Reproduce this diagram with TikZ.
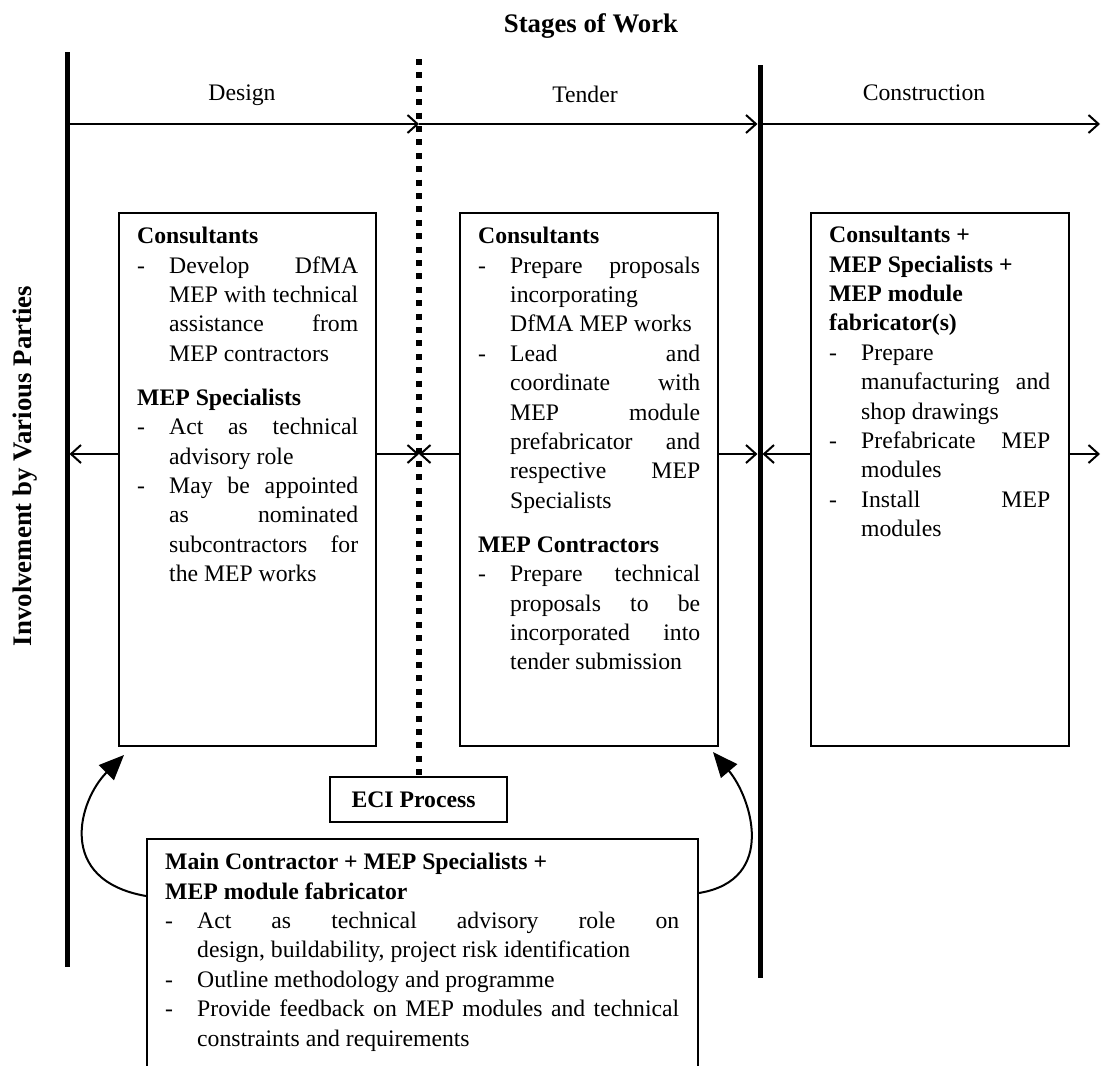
\documentclass[tikz,border=0pt]{standalone}
\usepackage{fontspec}
\setmainfont{Liberation Serif}
\usetikzlibrary{arrows.meta}

% text settings for the boxes
\newcommand\bodysize{\fontsize{23.7}{29.4}\selectfont}
\newcommand\bodysetup{\bodysize\parindent=0pt\pretolerance=10000\tolerance=10000\hbadness=10000}
\newcommand\hdline[1]{\noindent\textbf{#1}\par}
\newcommand\bitem[1]{\hangindent=32pt\hangafter=1\noindent\makebox[32pt][l]{-}#1\par}
\newcommand\secgap{\vspace{14.6pt}}

\tikzset{
  frame/.style={draw, line width=2pt, inner sep=0pt, anchor=north west},
  body/.style={inner sep=0pt, anchor=north west, text width=#1, align=justify, font=\bodysetup},
  stage/.style={font=\bodysize, anchor=base, inner sep=0pt},
  heading/.style={font=\fontsize{26.8}{31}\selectfont\bfseries, inner sep=0pt},
  phase/.style={line width=5pt},
  dotline/.style={line width=6pt, dash pattern=on 6pt off 7.4pt},
  flow/.style={line width=2pt, -{Straight Barb[length=10pt,width=18pt,line width=2pt]}},
  loop/.style={line width=2pt, -{Triangle[length=25pt,width=21pt]}},
}

\begin{document}
\begin{tikzpicture}[x=1pt,y=1pt]
\useasboundingbox (0,0) rectangle (1101,-1066);
\clip (0,0) rectangle (1101,-1066);
\fill[white] (0,0) rectangle (1101,-1066);

% headings
\node[heading, anchor=base] (title) at (591,-32) {Stages of Work};
\node[heading, rotate=90, anchor=base] (parties) at (31,-466) {Involvement by Various Parties};

% reference points
\coordinate (a0) at (67,-52);
\coordinate (a1) at (67,-967);
\coordinate (b0) at (419,-59);
\coordinate (c0) at (760,-65);
\coordinate (c1) at (760,-978);
\coordinate (aR) at (69.5,0);
\coordinate (bC) at (419,0);
\coordinate (cL) at (757.5,0);
\coordinate (cR) at (762.5,0);
\coordinate (edge) at (1100,0);
\coordinate (axis) at (0,-124);
\coordinate (row) at (0,-454);
\coordinate (ltip) at (124,-755);
\coordinate (rtip) at (713,-752);

% boxes
\node[frame, minimum width=257pt, minimum height=533pt] (lbox) at (118,-212) {};
\node[frame, minimum width=258pt, minimum height=533pt] (mbox) at (459,-212) {};
\node[frame, minimum width=258pt, minimum height=533pt] (rbox) at (810,-212) {};
\node[frame, minimum width=177pt, minimum height=45pt] (eci) at (329,-776) {};
\node[font=\bodysize\bfseries, inner sep=0pt] (ecitext) at ([xshift=-5pt]eci.center) {ECI Process};
\node[frame, minimum width=551pt, minimum height=260pt] (bbox) at (146,-838) {};

% phase boundaries
\draw[phase] (a0) -- (a1);
\draw[phase] (c0) -- (c1);
\draw[dotline] (b0) -- (b0 |- eci.north);

% stage labels and time axis
\node[stage] (design) at (242,-100) {Design};
\node[stage] (tender) at (585,-102) {Tender};
\node[stage] (constr) at (924,-100) {Construction};
\draw[flow] (a0 |- axis) -- (bC |- axis);
\draw[flow] (bC |- axis) -- (cL |- axis);
\draw[flow] (c0 |- axis) -- (edge |- axis);

% box contents
\node[body=221pt] (ltext) at (137,-227) {%
\hdline{Consultants}
\bitem{Develop DfMA\linebreak MEP with technical\linebreak assistance from\linebreak MEP contractors}
\secgap
\hdline{MEP Specialists}
\bitem{Act as technical\linebreak advisory role}
\bitem{May be appointed\linebreak as nominated\linebreak subcontractors for\linebreak the MEP works}
};

\node[body=222pt] (mtext) at (478,-227) {%
\hdline{Consultants}
\bitem{Prepare proposals\linebreak incorporating\linebreak DfMA MEP works}
\bitem{Lead and\linebreak coordinate with\linebreak MEP module\linebreak prefabricator and\linebreak respective MEP\linebreak Specialists}
\secgap
\hdline{MEP Contractors}
\bitem{Prepare technical\linebreak proposals to be\linebreak incorporated into\linebreak tender submission}
};

\node[body=221pt] (rtext) at (829,-226) {%
\hdline{Consultants +}
\hdline{MEP Specialists +}
\hdline{MEP module}
\hdline{fabricator(s)}
\bitem{Prepare\linebreak manufacturing and\linebreak shop drawings}
\bitem{Prefabricate MEP\linebreak modules}
\bitem{Install MEP\linebreak modules}
};

\node[body=514pt] (btext) at (165,-853) {%
\hdline{Main Contractor + MEP Specialists +}
\hdline{MEP module fabricator}
\bitem{Act as technical advisory role on\linebreak design, buildability, project risk identification}
\bitem{Outline methodology and programme}
\bitem{Provide feedback on MEP modules and technical\linebreak constraints and requirements}
};

% exchanges between parties across the stage boundaries
\draw[flow] (lbox.west |- row) -- (aR |- row);
\draw[flow] (lbox.east |- row) -- (bC |- row);
\draw[flow] (mbox.west |- row) -- (bC |- row);
\draw[flow] (mbox.east |- row) -- (cL |- row);
\draw[flow] (rbox.west |- row) -- (cR |- row);
\draw[flow] (rbox.east |- row) -- (edge |- row);

% ECI feedback loops
\draw[loop] ([yshift=-58pt]bbox.north west) .. controls (55,-880) and (79,-800) .. (ltip);
\draw[loop] ([yshift=-55pt]bbox.north east) .. controls (778,-880) and (751,-797) .. (rtip);
\end{tikzpicture}
\end{document}
